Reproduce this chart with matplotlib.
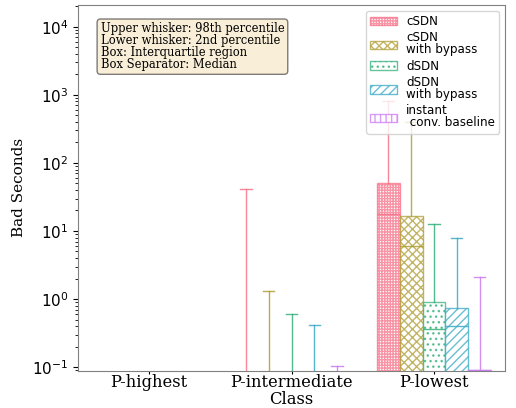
import numpy as np
import matplotlib.pyplot as plt
import matplotlib.patches as mpatches
import seaborn as sns

classes = ["P-highest", "P-intermediate", "P-lowest"]
schemes = ["cSDN", "cSDN\nwith bypass", "dSDN", "dSDN\nwith bypass", "instant\n conv. baseline"]
hatches = ["++++++", "xxxx", "...", "////", "|||"]

# percentiles per scheme, one value per class (0 = no bad seconds)
p02 = {
    "cSDN": [0, 0, 0],
    "cSDN\nwith bypass": [0, 0, 0],
    "dSDN": [0, 0, 0],
    "dSDN\nwith bypass": [0, 0, 0],
    "instant\n conv. baseline": [0, 0, 0],
}
q25 = {
    "cSDN": [0, 0, 0],
    "cSDN\nwith bypass": [0, 0, 0],
    "dSDN": [0, 0, 0],
    "dSDN\nwith bypass": [0, 0, 0],
    "instant\n conv. baseline": [0, 0, 0],
}
q50 = {
    "cSDN": [0, 0, 17.5],
    "cSDN\nwith bypass": [0, 0, 6.0],
    "dSDN": [0, 0, 0.36],
    "dSDN\nwith bypass": [0, 0, 0.40],
    "instant\n conv. baseline": [0, 0, 0.09],
}
q75 = {
    "cSDN": [0, 0, 50],
    "cSDN\nwith bypass": [0, 0, 16.5],
    "dSDN": [0, 0, 0.89],
    "dSDN\nwith bypass": [0, 0, 0.73],
    "instant\n conv. baseline": [0, 0, 0.09],
}
p98 = {
    "cSDN": [0, 42, 800],
    "cSDN\nwith bypass": [0, 1.3, 400],
    "dSDN": [0, 0.61, 12.5],
    "dSDN\nwith bypass": [0, 0.41, 7.8],
    "instant\n conv. baseline": [0, 0.105, 2.1],
}

colors = sns.color_palette("husl", len(schemes))

fig = plt.figure(figsize=(5.16, 4.08), dpi=100)
ax = fig.add_axes([0.151, 0.091, 0.828, 0.897])
ax.set_yscale("log")

width = 0.16
x = np.arange(len(classes))
handles = []
for j, s in enumerate(schemes):
    stats = []
    for i in range(len(classes)):
        stats.append(dict(whislo=p02[s][i], q1=q25[s][i], med=q50[s][i],
                          q3=q75[s][i], whishi=p98[s][i], fliers=[]))
    c = colors[j]
    ax.bxp(stats, positions=x + (j - 2) * width, widths=width,
           patch_artist=True, showfliers=False, manage_ticks=False,
           boxprops=dict(facecolor="white", edgecolor=c, hatch=hatches[j], linewidth=1.0, alpha=0.75),
           medianprops=dict(color=c, linewidth=1.0, alpha=0.85),
           whiskerprops=dict(color=c, linewidth=1.0, alpha=0.85),
           capprops=dict(color=c, linewidth=1.0, alpha=0.85))
    handles.append(mpatches.Patch(facecolor="white", edgecolor=c, hatch=hatches[j],
                                  alpha=0.75, label=s))

ax.set_xticks(x)
ax.set_xticklabels(classes, family="DejaVu Serif", fontsize=11.8)
ax.tick_params(axis="x", pad=0, length=2.5)
ax.set_xlim(-0.5, 2.5)
ax.set_ylim(0.088, 2.1e4)
ax.tick_params(axis="y", labelsize=11)
ax.set_xlabel("Class", family="DejaVu Serif", fontsize=11.8, labelpad=0)
ax.set_ylabel("Bad Seconds", family="DejaVu Serif", fontsize=11)
for sp in ax.spines.values():
    sp.set_color("gray")

leg = ax.legend(handles=handles, loc="upper right", fontsize=8.6, labelspacing=0.28,
                handlelength=2.2, borderpad=0.35)
for t in leg.get_texts():
    t.set_linespacing(0.9)

ax.text(0.053, 0.952,
        "Upper whisker: 98th percentile\nLower whisker: 2nd percentile\n"
        "Box: Interquartile region\nBox Separator: Median",
        transform=ax.transAxes, va="top", ha="left", family="DejaVu Serif", fontsize=8.3,
        linespacing=0.88,
        bbox=dict(boxstyle="round", facecolor="wheat", alpha=0.5))

fig.savefig("out.png", dpi=100)
